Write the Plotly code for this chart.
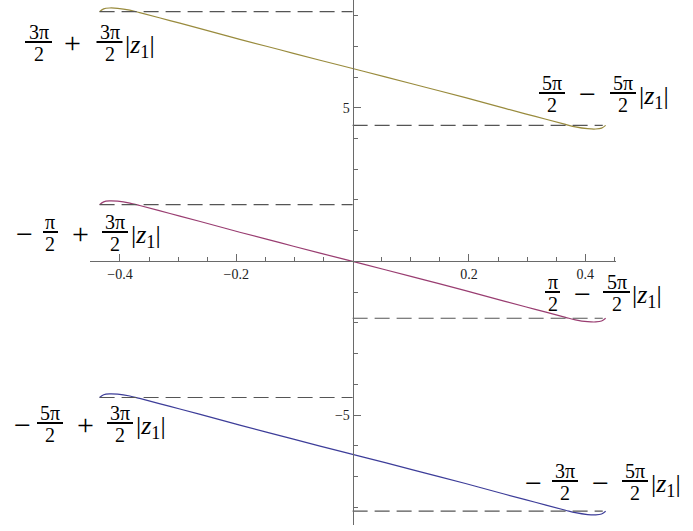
import plotly.graph_objects as go

# ---------------- data ----------------
x_vals = [-0.435, -0.428, -0.418, -0.404, -0.383, -0.366, -0.314, -0.262, -0.194, -0.125, -0.056, 0.0,
          0.056, 0.125, 0.194, 0.262, 0.314, 0.366, 0.383, 0.404, 0.418, 0.428, 0.435]
y_gold = [8.13, 8.22, 8.25, 8.24, 8.18, 8.10, 7.84, 7.58, 7.23, 6.89, 6.55, 6.28,
          6.01, 5.67, 5.33, 4.98, 4.72, 4.46, 4.38, 4.32, 4.31, 4.34, 4.43]
y_magenta = [1.85, 1.94, 1.97, 1.96, 1.90, 1.82, 1.56, 1.30, 0.95, 0.61, 0.27, 0.0,
             -0.27, -0.61, -0.95, -1.30, -1.56, -1.82, -1.90, -1.96, -1.97, -1.94, -1.85]
y_blue = [-4.43, -4.34, -4.31, -4.32, -4.38, -4.46, -4.72, -4.98, -5.33, -5.67, -6.01, -6.28,
          -6.55, -6.89, -7.23, -7.58, -7.84, -8.10, -8.18, -8.24, -8.25, -8.22, -8.13]

upper_levels = [8.13, 1.85, -4.43]     # dashed lines, left half
lower_levels = [4.43, -1.85, -8.13]    # dashed lines, right half
dash_left_x = [-0.435, 0.0]
dash_right_x = [0.0, 0.43]

x_major = [-0.4, -0.2, 0.2, 0.4]
x_major_text = ["−0.4", "−0.2", "0.2", "0.4"]
x_minor = [-0.45, -0.35, -0.3, -0.25, -0.15, -0.1, -0.05, 0.05, 0.1, 0.15, 0.25, 0.3, 0.35, 0.45]
y_major = [-5, 5]
y_major_text = ["−5", "5"]
y_minor = [-8, -7, -6, -4, -3, -2, -1, 1, 2, 3, 4, 6, 7, 8]

# labels: pieces ("frac", num, den, cx, bar_w) / ("op", text, cx) / ("abs", left_x)
labels = [
    (42, [("frac", "3π", "2", 38.5, 27), ("op", "+", 72), ("frac", "3π", "2", 109.5, 26), ("abs", 123)]),
    (93, [("frac", "5π", "2", 552, 26), ("op", "−", 587), ("frac", "5π", "2", 623, 26), ("abs", 637)]),
    (232, [("op", "−", 25), ("frac", "π", "2", 50.5, 15), ("op", "+", 80), ("frac", "3π", "2", 115, 26), ("abs", 129)]),
    (292, [("frac", "π", "2", 552.5, 15), ("op", "−", 582), ("frac", "5π", "2", 616.5, 27), ("abs", 630)]),
    (423, [("op", "−", 22.5), ("frac", "5π", "2", 50, 26), ("op", "+", 85), ("frac", "3π", "2", 120, 26), ("abs", 134)]),
    (481, [("op", "−", 533), ("frac", "3π", "2", 565, 26), ("op", "−", 600), ("frac", "5π", "2", 635, 26), ("abs", 649)]),
]

# ---------------- layout constants ----------------
W, H = 693, 531
XD = [90 / W, 616 / W]
YD = [1 - 525 / H, 1.0]
XR = [-0.4515, 0.4528]
YR = [-8.58, 8.51]
AXC = "#6a6a6a"
SERIF = "Liberation Serif, DejaVu Serif, serif"

col_gold = "#998B3D"
col_mag = "#993D71"
col_blue = "#3D3D99"

fig = go.Figure()
for yv, c in [(y_gold, col_gold), (y_magenta, col_mag), (y_blue, col_blue)]:
    fig.add_trace(go.Scatter(x=x_vals, y=yv, mode="lines",
                             line=dict(color=c, width=1.2, shape="spline"),
                             hoverinfo="skip"))
for lv in upper_levels:
    fig.add_trace(go.Scatter(x=dash_left_x, y=[lv, lv], mode="lines",
                             line=dict(color="#555555", width=1.2, dash="15px,7px"),
                             hoverinfo="skip"))
for lv in lower_levels:
    fig.add_trace(go.Scatter(x=dash_right_x, y=[lv, lv], mode="lines",
                             line=dict(color="#555555", width=1.2, dash="15px,7px"),
                             hoverinfo="skip"))


def P(px, py):
    return px / W, 1 - py / H


annotations = []
shapes = []
for bar_y, pieces in labels:
    for pc in pieces:
        if pc[0] == "frac":
            _, num, den, cx, bw = pc
            ax, ay = P(cx, bar_y - 10)
            annotations.append(dict(x=ax, y=ay, xref="paper", yref="paper", text=num, showarrow=False,
                                    xanchor="center", yanchor="middle",
                                    font=dict(family=SERIF, size=20, color="black")))
            ax, ay = P(cx, bar_y + 12)
            annotations.append(dict(x=ax, y=ay, xref="paper", yref="paper", text=den, showarrow=False,
                                    xanchor="center", yanchor="middle",
                                    font=dict(family=SERIF, size=20, color="black")))
            x0, y0 = P(cx - bw / 2, bar_y)
            x1, _ = P(cx + bw / 2, bar_y)
            shapes.append(dict(type="line", xref="paper", yref="paper", x0=x0, x1=x1, y0=y0, y1=y0,
                               line=dict(color="black", width=2)))
        elif pc[0] == "op":
            _, t, cx = pc
            ax, ay = P(cx, bar_y + 1)
            annotations.append(dict(x=ax, y=ay, xref="paper", yref="paper", text=t, showarrow=False,
                                    xanchor="center", yanchor="middle",
                                    font=dict(family=SERIF, size=30, color="black")))
        else:
            _, lx = pc
            ax, ay = P(lx, bar_y + 4)
            annotations.append(dict(x=ax, y=ay, xref="paper", yref="paper",
                                    text="|<i>z</i><sub>1</sub>|", showarrow=False,
                                    xanchor="left", yanchor="middle",
                                    font=dict(family=SERIF, size=26, color="black")))

xpos = YD[0] + (0 - YR[0]) / (YR[1] - YR[0]) * (YD[1] - YD[0])
ypos = XD[0] + (0 - XR[0]) / (XR[1] - XR[0]) * (XD[1] - XD[0])

fig.update_layout(
    width=W, height=H,
    margin=dict(l=0, r=0, t=0, b=0),
    paper_bgcolor="white", plot_bgcolor="white",
    showlegend=False,
    annotations=annotations,
    shapes=shapes,
    xaxis=dict(range=XR, domain=XD, anchor="free", position=xpos,
               showline=True, linecolor=AXC, linewidth=1, showgrid=False, zeroline=False,
               ticks="inside", ticklen=7, tickwidth=1, tickcolor=AXC,
               tickvals=x_major, ticktext=x_major_text,
               tickfont=dict(family=SERIF, size=14, color="#222"),
               minor=dict(ticks="inside", tickvals=x_minor, ticklen=4, tickcolor=AXC, showgrid=False),
               automargin=False, fixedrange=True),
    yaxis=dict(range=YR, domain=YD, anchor="free", position=ypos,
               showline=True, linecolor=AXC, linewidth=1, showgrid=False, zeroline=False,
               ticks="inside", ticklen=7, tickwidth=1, tickcolor=AXC,
               tickvals=y_major, ticktext=y_major_text,
               tickfont=dict(family=SERIF, size=14, color="#222"),
               minor=dict(ticks="inside", tickvals=y_minor, ticklen=4, tickcolor=AXC, showgrid=False),
               automargin=False, fixedrange=True),
)

fig.write_html("out.html", config={"displayModeBar": False},
               post_script="document.body.style.margin='0px';document.body.style.overflow='hidden';")
